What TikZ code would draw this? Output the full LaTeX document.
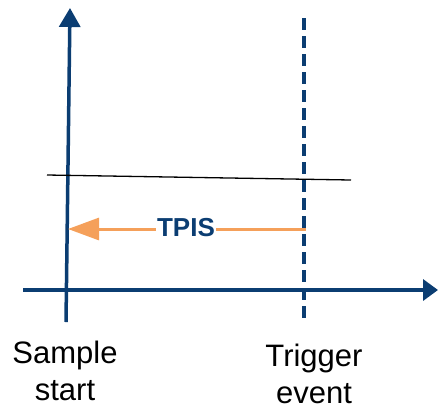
\documentclass[tikz,border=0pt]{standalone}
\usepackage{fontspec}
\setmainfont{Liberation Sans}
\usetikzlibrary{arrows.meta,positioning}
\definecolor{axisblue}{HTML}{0B3D72}
\definecolor{tpisorange}{HTML}{F5A05A}

\begin{document}
\begin{tikzpicture}[x=1pt, y=-1pt,
  axis/.style={draw=axisblue, line width=3.5pt},
  trig/.style={draw=axisblue, line width=3.5pt, dash pattern=on 12pt off 6pt},
  arr/.style={draw=tpisorange, line width=3pt, -{Triangle[length=31pt, width=22pt]}},
  lab/.style={align=center, font=\fontsize{31}{37}\selectfont, inner sep=0pt, anchor=north},
  tag/.style={fill=white, text=axisblue, font=\fontsize{26}{30}\selectfont\bfseries, inner sep=1pt},
]
\useasboundingbox (0,0) rectangle (438,408);
% axes
\coordinate (ybot) at (66,322);
\coordinate (ytop) at (70,8);
\coordinate (xleft) at (23,290);
\coordinate (xright) at (438,290);
\draw[axis, -{Triangle[length=19pt, width=21pt]}] (ybot) -- (ytop);
\draw[axis, -{Triangle[length=15pt, width=21pt]}] (xleft) -- (xright);
% trigger marker
\coordinate (ttop) at (304,18);
\coordinate (tbot) at (304,322);
\draw[trig] (ttop) -- (tbot);
% threshold
\coordinate (thl) at (47,175);
\coordinate (thr) at (351,180);
\draw[black, line width=1.3pt] (thl) -- (thr);
% TPIS interval
\coordinate (tpisr) at (306,229);
\coordinate (tpisl) at (68,229);
\draw[arr] (tpisr) -- (tpisl);
\node[tag] (tpis) at (186,228) {TPIS};
% labels
\node[lab] (start) at (65,341) {Sample\\start};
\node[lab] (event) at (314,344) {Trigger\\event};
\end{tikzpicture}
\end{document}
